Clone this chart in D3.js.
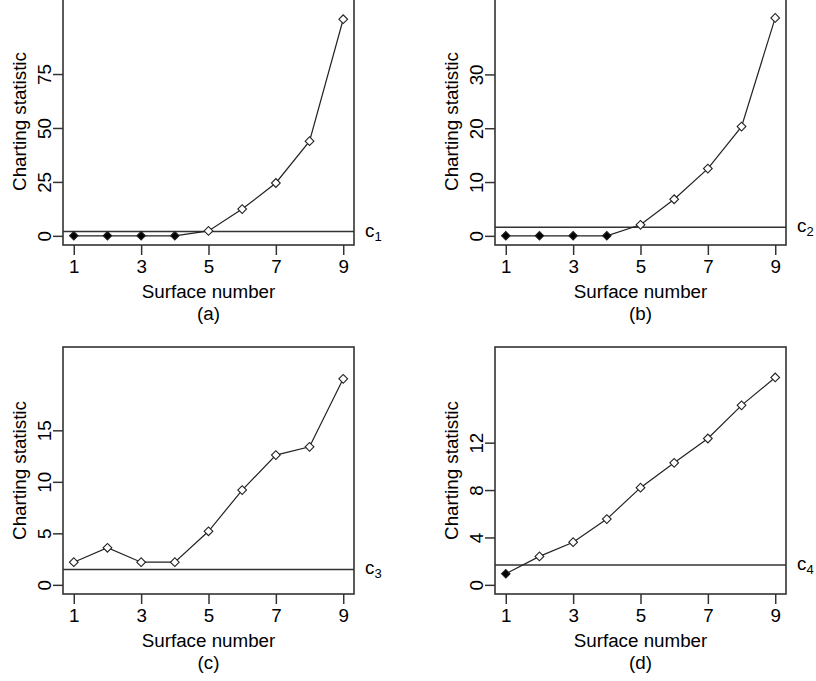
<!DOCTYPE html>
<html>
<head>
<meta charset="utf-8">
<script src="https://cdn.jsdelivr.net/npm/d3@7"></script>
<style>
  body { margin: 0; background: #fff; }
  svg text { font-family: "Liberation Sans", Arial, sans-serif; fill: #000; }
</style>
</head>
<body>
<div id="chart"></div>
<script>
// Surface numbers (x axis) and the ticks that carry a label
var surfaces = [1, 2, 3, 4, 5, 6, 7, 8, 9];
var xTicks = [1, 3, 5, 7, 9];

// Charting statistic for each panel
var statA = [0, 0, 0, 0, 2.3, 12.4, 24.5, 43.9, 100.4];
var statB = [0, 0, 0, 0, 2.05, 6.8, 12.5, 20.3, 40.5];
var statC = [2.2, 3.6, 2.2, 2.2, 5.2, 9.2, 12.6, 13.4, 20.0];
var statD = [0.93, 2.4, 3.6, 5.55, 8.2, 10.3, 12.35, 15.15, 17.5];

// Control limits c1..c4
var limits = [2.0, 1.6, 1.5, 1.68];
var limitIndex = ["1", "2", "3", "4"];

// y tick labels and upper y limits per panel
var yTicksA = [0, 25, 50, 75];
var yTicksB = [0, 10, 20, 30];
var yTicksC = [0, 5, 10, 15];
var yTicksD = [0, 4, 8, 12];
var yMax = [106, 42.5, 22.2, 19.3];

var panelLabels = ["(a)", "(b)", "(c)", "(d)"];

var panels = [
  { stat: statA, ticks: yTicksA, left: 63, top: -2 },
  { stat: statB, ticks: yTicksB, left: 495, top: -2 },
  { stat: statC, ticks: yTicksC, left: 63, top: 347 },
  { stat: statD, ticks: yTicksD, left: 495, top: 347 }
];

var svgWidth = 816;
var svgHeight = 681;
var boxWidth = 291;
var boxHeight = 247;
var fontSize = 18.8;

var svg = d3.select("#chart")
  .append("svg")
    .attr("width", svgWidth)
    .attr("height", svgHeight);

panels.forEach(function(p, i) {
  var g = svg.append("g")
    .attr("transform", `translate(${p.left}, ${p.top})`);

  // R style 4% padding around the data range
  var xPad = (d3.max(surfaces) - d3.min(surfaces)) * 0.04;
  var xScale = d3.scaleLinear()
    .domain([d3.min(surfaces) - xPad, d3.max(surfaces) + xPad])
    .range([0, boxWidth]);

  var yPad = yMax[i] * 0.04;
  var yScale = d3.scaleLinear()
    .domain([-yPad, yMax[i] + yPad])
    .range([boxHeight, 0]);

  // Axes
  var bottomAxis = d3.axisBottom(xScale).tickValues(xTicks).tickSize(10).tickSizeOuter(0);
  var leftAxis = d3.axisLeft(yScale).tickValues(p.ticks).tickSize(10).tickSizeOuter(0);

  var xg = g.append("g")
    .attr("transform", `translate(0, ${boxHeight})`)
    .call(bottomAxis);
  var yg = g.append("g")
    .call(leftAxis);

  [xg, yg].forEach(function(ax) {
    ax.select(".domain").remove();
    ax.selectAll(".tick line").attr("stroke", "#333").attr("stroke-width", 1.5);
    ax.selectAll(".tick text")
      .style("font-size", fontSize + "px")
      .style("font-family", "'Liberation Sans', Arial, sans-serif")
      .attr("fill", "#000");
  });

  xg.selectAll(".tick text")
    .attr("y", 28)
    .attr("dy", 0);

  yg.selectAll(".tick text")
    .attr("x", 0)
    .attr("dy", 0)
    .attr("text-anchor", "middle")
    .attr("transform", "translate(-12.5, 0) rotate(-90)");

  // Plot box
  g.append("rect")
    .attr("x", 0)
    .attr("y", 0)
    .attr("width", boxWidth)
    .attr("height", boxHeight)
    .attr("fill", "none")
    .attr("stroke", "#333")
    .attr("stroke-width", 1.6);

  // Control limit line
  g.append("line")
    .attr("x1", 0)
    .attr("x2", boxWidth)
    .attr("y1", yScale(limits[i]))
    .attr("y2", yScale(limits[i]))
    .attr("stroke", "#333")
    .attr("stroke-width", 1.5);

  var cLabel = g.append("text")
    .attr("x", boxWidth + 11)
    .attr("y", yScale(limits[i]) + 5)
    .style("font-size", fontSize + "px")
    .text("c");
  cLabel.append("tspan")
    .attr("dy", 4)
    .style("font-size", "13px")
    .text(limitIndex[i]);

  // Connecting line
  var points = surfaces.map(function(s, k) { return { s: s, v: p.stat[k] }; });

  var line = d3.line()
    .x(d => xScale(d.s))
    .y(d => yScale(d.v));

  g.append("path")
    .datum(points)
    .attr("d", line)
    .attr("fill", "none")
    .attr("stroke", "#222")
    .attr("stroke-width", 1.2);

  // Markers: filled below the limit, open above it
  g.selectAll(".pt")
    .data(points)
    .enter()
    .append("path")
    .attr("class", "pt")
    .attr("transform", d => `translate(${xScale(d.s)}, ${yScale(d.v)}) rotate(45)`)
    .attr("d", d => d3.symbol(d3.symbolSquare, d.v < limits[i] ? 36 : 38)())
    .attr("fill", d => d.v < limits[i] ? "#000" : "#fff")
    .attr("stroke", "#222")
    .attr("stroke-width", 1.1);

  // Labels
  g.append("text")
    .attr("transform", `translate(-37.5, ${boxHeight / 2}) rotate(-90)`)
    .attr("text-anchor", "middle")
    .style("font-size", fontSize + "px")
    .text("Charting statistic");

  g.append("text")
    .attr("x", boxWidth / 2)
    .attr("y", boxHeight + 52.5)
    .attr("text-anchor", "middle")
    .style("font-size", fontSize + "px")
    .text("Surface number");

  g.append("text")
    .attr("x", boxWidth / 2)
    .attr("y", boxHeight + 74.5)
    .attr("text-anchor", "middle")
    .style("font-size", fontSize + "px")
    .text(panelLabels[i]);
});
</script>
</body>
</html>
